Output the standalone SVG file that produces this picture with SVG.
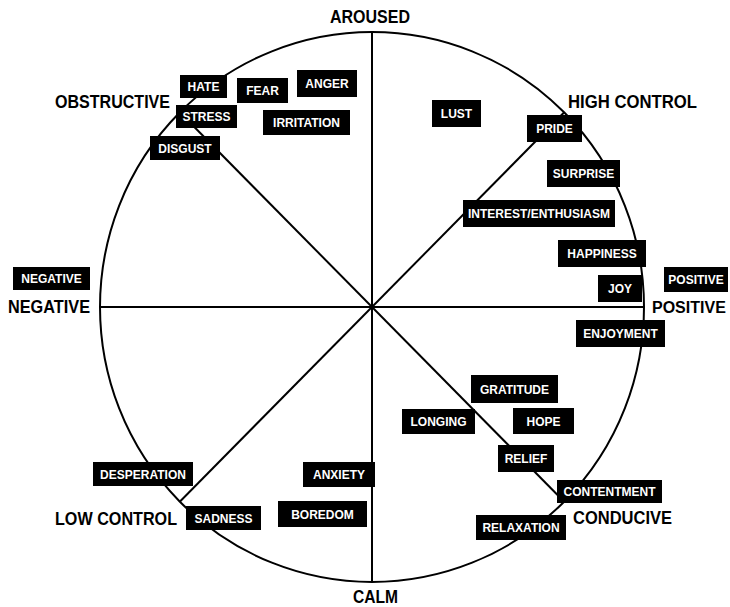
<svg xmlns="http://www.w3.org/2000/svg" width="730" height="607" viewBox="0 0 730 607">
<style>
.ln{stroke:#000;stroke-width:2;fill:none}
.bx{fill:#000}
.bt{fill:#fff;font-family:"Liberation Sans",Arial,sans-serif;font-weight:bold;font-size:12px;text-anchor:middle}
.lb{fill:#000;font-family:"Liberation Sans",Arial,sans-serif;font-weight:bold;font-size:18px}
</style>
<rect width="730" height="607" fill="#fff"/>
<g id="connectors">
<ellipse class="ln" cx="372" cy="307" rx="272" ry="275" stroke-width="2.5"/>
<line class="ln" x1="372" y1="32" x2="372" y2="582"/>
<line class="ln" x1="100" y1="307" x2="644" y2="307"/>
<line class="ln" x1="180" y1="112.5" x2="564" y2="501.5"/>
<line class="ln" x1="564" y1="112.5" x2="180" y2="501.5"/>
</g>
<g id="labels">
<text class="lb" x="330" y="23" textLength="80" lengthAdjust="spacingAndGlyphs">AROUSED</text>
<text class="lb" x="353" y="603" textLength="45" lengthAdjust="spacingAndGlyphs">CALM</text>
<text class="lb" x="568" y="108" textLength="129" lengthAdjust="spacingAndGlyphs">HIGH CONTROL</text>
<text class="lb" x="55" y="108" textLength="115" lengthAdjust="spacingAndGlyphs">OBSTRUCTIVE</text>
<text class="lb" x="8" y="313" textLength="82" lengthAdjust="spacingAndGlyphs">NEGATIVE</text>
<text class="lb" x="652" y="313" font-size="16" style="font-size:16px">POSITIVE</text>
<text class="lb" x="55" y="525" textLength="122" lengthAdjust="spacingAndGlyphs">LOW CONTROL</text>
<text class="lb" x="573" y="524" textLength="99" lengthAdjust="spacingAndGlyphs">CONDUCIVE</text>
</g>
<g id="hate"><rect class="bx" x="180" y="75" width="47" height="23"/><text class="bt" x="203.5" y="91">HATE</text></g>
<g id="fear"><rect class="bx" x="237" y="78" width="51" height="25"/><text class="bt" x="262.5" y="95">FEAR</text></g>
<g id="anger"><rect class="bx" x="297" y="70" width="60" height="27"/><text class="bt" x="327" y="88">ANGER</text></g>
<g id="stress"><rect class="bx" x="176" y="105" width="61" height="23"/><text class="bt" x="206.5" y="121">STRESS</text></g>
<g id="irritation"><rect class="bx" x="263" y="110" width="87" height="25"/><text class="bt" x="306.5" y="127">IRRITATION</text></g>
<g id="disgust"><rect class="bx" x="150" y="136" width="70" height="24"/><text class="bt" x="185" y="152.5">DISGUST</text></g>
<g id="lust"><rect class="bx" x="432" y="100" width="49" height="27"/><text class="bt" x="456.5" y="118">LUST</text></g>
<g id="pride"><rect class="bx" x="527" y="115" width="55" height="27"/><text class="bt" x="554.5" y="133">PRIDE</text></g>
<g id="surprise"><rect class="bx" x="547" y="160" width="73" height="27"/><text class="bt" x="583.5" y="178">SURPRISE</text></g>
<g id="interest"><rect class="bx" x="463" y="200" width="152" height="27"/><text class="bt" x="539" y="218">INTEREST/ENTHUSIASM</text></g>
<g id="happiness"><rect class="bx" x="558" y="240" width="88" height="27"/><text class="bt" x="602" y="258">HAPPINESS</text></g>
<g id="joy"><rect class="bx" x="598" y="275" width="44" height="27"/><text class="bt" x="620" y="293">JOY</text></g>
<g id="positive-box"><rect class="bx" x="664" y="267" width="64" height="25"/><text class="bt" x="696" y="284">POSITIVE</text></g>
<g id="negative-box"><rect class="bx" x="13" y="267" width="77" height="23"/><text class="bt" x="51.5" y="283">NEGATIVE</text></g>
<g id="enjoyment"><rect class="bx" x="576" y="320" width="89" height="27"/><text class="bt" x="620.5" y="338">ENJOYMENT</text></g>
<g id="gratitude"><rect class="bx" x="471" y="375" width="87" height="28"/><text class="bt" x="514.5" y="393.5">GRATITUDE</text></g>
<g id="longing"><rect class="bx" x="402" y="409" width="73" height="25"/><text class="bt" x="438.5" y="426">LONGING</text></g>
<g id="hope"><rect class="bx" x="513" y="408" width="61" height="26"/><text class="bt" x="543.5" y="425.5">HOPE</text></g>
<g id="relief"><rect class="bx" x="498" y="445" width="56" height="27"/><text class="bt" x="526" y="463">RELIEF</text></g>
<g id="contentment"><rect class="bx" x="557" y="480" width="105" height="23"/><text class="bt" x="609.5" y="496">CONTENTMENT</text></g>
<g id="relaxation"><rect class="bx" x="476" y="515" width="90" height="25"/><text class="bt" x="521" y="532">RELAXATION</text></g>
<g id="desperation"><rect class="bx" x="93" y="462" width="100" height="24"/><text class="bt" x="143" y="478.5">DESPERATION</text></g>
<g id="sadness"><rect class="bx" x="186" y="506" width="75" height="24"/><text class="bt" x="223.5" y="522.5">SADNESS</text></g>
<g id="anxiety"><rect class="bx" x="303" y="462" width="72" height="25"/><text class="bt" x="339" y="479">ANXIETY</text></g>
<g id="boredom"><rect class="bx" x="278" y="501" width="89" height="26"/><text class="bt" x="322.5" y="518.5">BOREDOM</text></g>
</svg>
